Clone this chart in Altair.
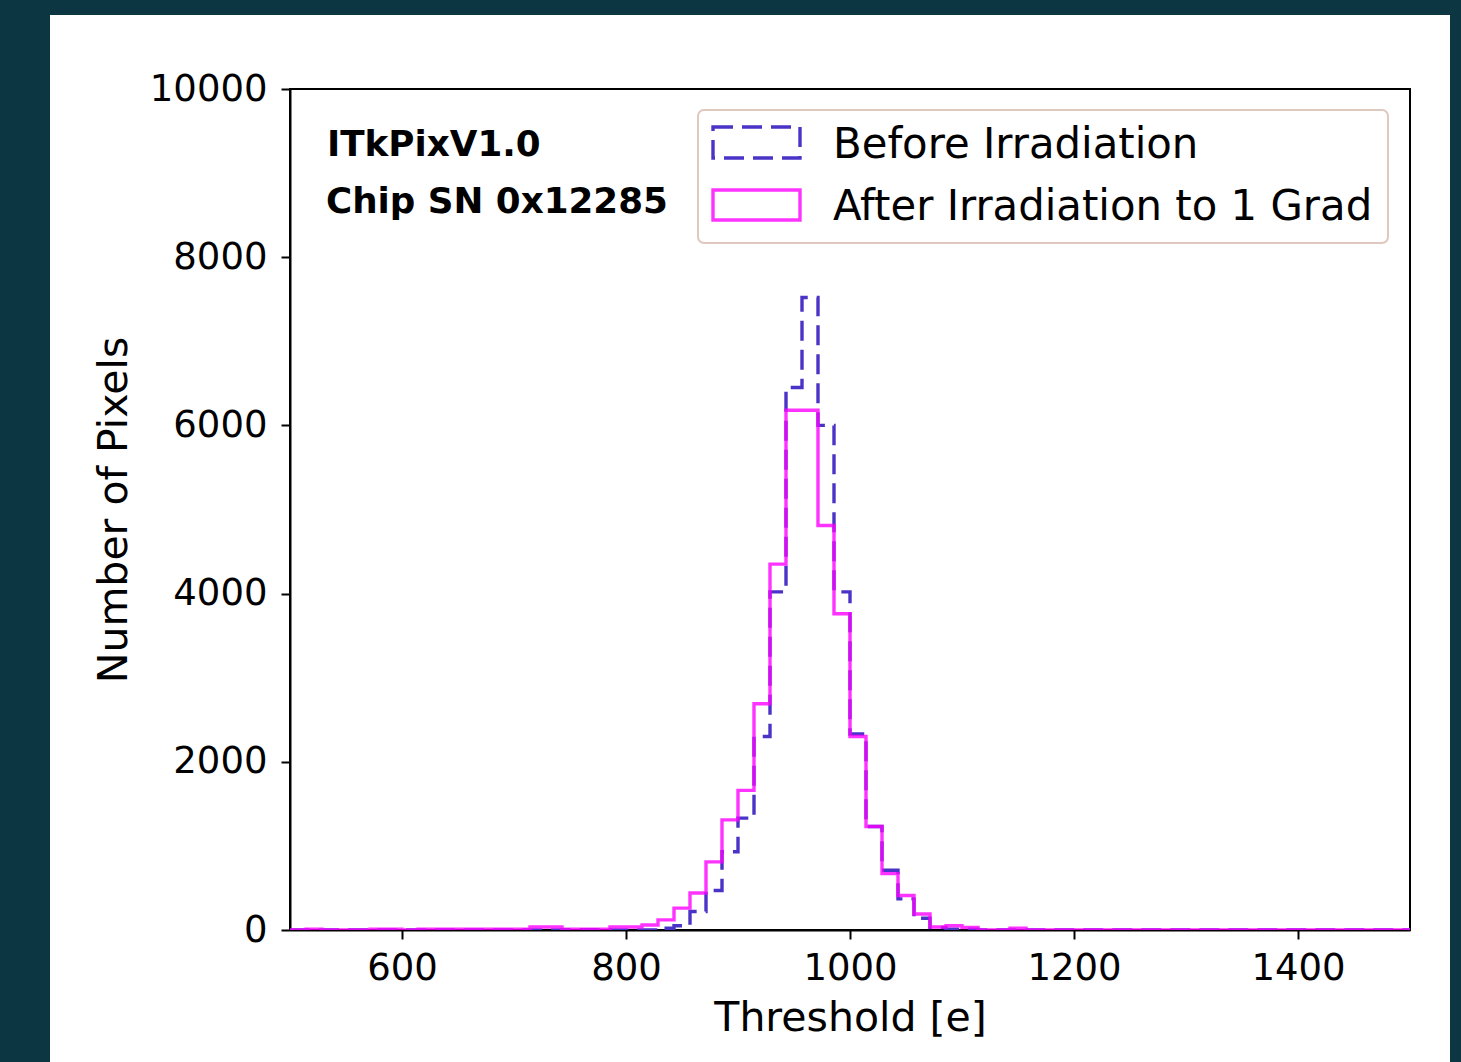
import altair as alt
import numpy as np
import pandas as pd

# ---------------- data ----------------
BIN_START = 500.0
BIN_END = 1500.0
N_BINS = 70

SERIES = ["Before Irradiation", "After Irradiation to 1 Grad"]

BEFORE = [0, 0, 0, 0, 0, 0, 0, 0, 0, 0,
          0, 0, 0, 0, 0, 0, 0, 5, 5, 5,
          0, 0, 0, 20, 50, 220, 470, 930, 1330, 2300,
          4020, 6450, 7520, 6000, 4020, 2330, 1230, 710, 370, 140,
          30, 10, 10, 0, 0, 0, 0, 0, 0, 0,
          0, 0, 0, 0, 0, 0, 0, 0, 0, 0,
          0, 0, 0, 0, 0, 0, 0, 0, 0, 0]

AFTER = [0, 10, 0, 0, 0, 10, 10, 0, 10, 10,
         10, 10, 10, 10, 10, 35, 35, 10, 10, 10,
         35, 35, 60, 120, 260, 440, 810, 1310, 1660, 2690,
         4350, 6180, 6180, 4810, 3760, 2300, 1230, 670, 410, 190,
         35, 50, 30, 0, 0, 20, 0, 0, 0, 0,
         0, 0, 0, 0, 0, 0, 0, 0, 0, 0,
         0, 0, 0, 0, 0, 0, 0, 0, 0, 0]

X_TICKS = [600, 800, 1000, 1200, 1400]
Y_TICKS = [0, 2000, 4000, 6000, 8000, 10000]
X_DOMAIN = [500, 1500]
Y_DOMAIN = [0, 10000]
ANNOTATIONS = ["ITkPixV1.0", "Chip SN 0x12285"]

# ---------------- style ----------------
BLUE = "#4a34c8"
MAGENTA = "#ff00ff"
DARK_BG = "#0c3742"
FONT = "DejaVu Sans"

W, H = 1120, 841
PAD_L, PAD_T = 290, 89
PAD_R = 1461 - PAD_L - W
PAD_B = 1062 - PAD_T - H

edges = np.linspace(BIN_START, BIN_END, N_BINS + 1)
rows = []
for name, counts in zip(SERIES, [BEFORE, AFTER]):
    for k in range(N_BINS):
        rows.append({"series": name, "threshold": edges[k], "count": counts[k], "idx": k})
    rows.append({"series": name, "threshold": edges[N_BINS], "count": counts[-1], "idx": N_BINS})
df = pd.DataFrame(rows)

one = pd.DataFrame({"k": [0]})

lines = alt.Chart(df).mark_line(interpolate="step-after", strokeWidth=3.4, clip=True).encode(
    x=alt.X("threshold:Q",
            scale=alt.Scale(domain=X_DOMAIN, nice=False, zero=False),
            axis=alt.Axis(values=X_TICKS, title="Threshold [e]", labelPadding=11,
                          titlePadding=12, format="d")),
    y=alt.Y("count:Q",
            scale=alt.Scale(domain=Y_DOMAIN, nice=False),
            axis=alt.Axis(values=Y_TICKS, title="Number of Pixels", labelPadding=14,
                          titlePadding=14, format="d")),
    color=alt.Color("series:N", scale=alt.Scale(domain=SERIES, range=[BLUE, MAGENTA]), legend=None),
    strokeDash=alt.StrokeDash("series:N", scale=alt.Scale(domain=SERIES, range=[[20, 9], [1, 0]]),
                              legend=None),
    opacity=alt.Opacity("series:N", scale=alt.Scale(domain=SERIES, range=[1.0, 0.8]), legend=None),
    order=alt.Order("idx:Q"),
)


def box(x, x2, y, y2, **kw):
    return alt.Chart(one).mark_rect(**kw).encode(
        x=alt.value(x), x2=alt.value(x2), y=alt.value(y), y2=alt.value(y2))


def label(x, y, txt, **kw):
    return alt.Chart(one).mark_text(**kw).encode(
        x=alt.value(x), y=alt.value(y), text=alt.value(txt))


# dark slide background around the white figure panel
strip_left = box(-PAD_L, -240, -PAD_T, H + PAD_B, fill=DARK_BG)
strip_top = box(-PAD_L, W + PAD_R, -PAD_T, -74, fill=DARK_BG)
strip_right = box(1160, W + PAD_R, -PAD_T, H + PAD_B, fill=DARK_BG)

# legend
leg_box = box(408, 1098, 21, 154, fill="white", stroke="#dfc9bf", strokeWidth=2, cornerRadius=6)
leg_sym1 = box(423, 510, 38, 69, fill="white", stroke=BLUE, strokeWidth=3.4, strokeDash=[20, 9])
leg_sym2 = box(423, 510, 101, 131, fill="white", stroke=MAGENTA, strokeWidth=3.4, strokeOpacity=0.8)
leg_txt1 = label(543, 69, SERIES[0], align="left", baseline="alphabetic", font=FONT,
                 fontSize=41.8, color="black")
leg_txt2 = label(543, 131, SERIES[1], align="left", baseline="alphabetic", font=FONT,
                 fontSize=41.8, color="black")

# annotations
ann1 = label(37, 67, ANNOTATIONS[0], align="left", baseline="alphabetic", font=FONT,
             fontSize=35.7, fontWeight="bold", color="black")
ann2 = label(36, 124, ANNOTATIONS[1], align="left", baseline="alphabetic", font=FONT,
             fontSize=35.7, fontWeight="bold", color="black")

chart = alt.layer(
    lines, strip_left, strip_top, strip_right,
    leg_box, leg_sym1, leg_sym2, leg_txt1, leg_txt2, ann1, ann2,
).properties(
    width=W, height=H,
    autosize=alt.AutoSizeParams(type="none"),
    padding={"left": PAD_L, "top": PAD_T, "right": PAD_R, "bottom": PAD_B},
    background="white",
).configure_view(
    stroke="black", strokeWidth=2, fill="white",
).configure_axis(
    grid=False, domain=True, domainColor="black", domainWidth=2,
    ticks=True, tickColor="black", tickWidth=2, tickSize=9,
    labelFont=FONT, labelFontSize=37, labelColor="black",
    titleFont=FONT, titleFontSize=41, titleFontWeight="normal", titleColor="black",
    zindex=1,
)

chart.save("out.html", embed_options={"renderer": "svg", "actions": False})
